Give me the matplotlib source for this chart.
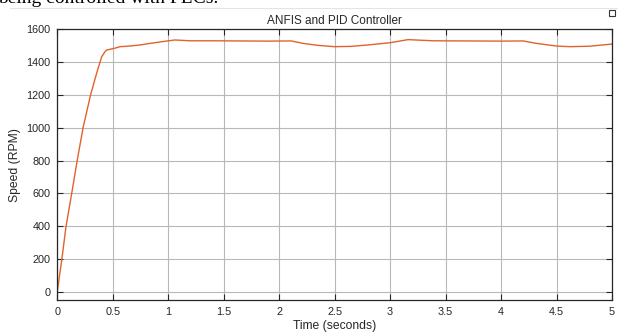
import matplotlib
matplotlib.use("Agg")
import matplotlib.pyplot as plt
from matplotlib.patches import Rectangle
from matplotlib.lines import Line2D

time_s = [0, 0.02, 0.04, 0.078, 0.13, 0.18, 0.234, 0.30, 0.355, 0.40, 0.43, 0.445,
          0.475, 0.52, 0.565, 0.655, 0.75, 0.835, 0.95, 1.06, 1.195, 1.4, 1.646,
          1.9, 2.11, 2.216, 2.35, 2.50, 2.65, 2.79, 3.0, 3.16, 3.39, 3.7, 4.0,
          4.2, 4.32, 4.5, 4.62, 4.8, 5.0]
speed_rpm = [0, 100, 193, 396, 600, 803, 1006, 1200, 1333, 1433, 1463, 1474,
             1478, 1485, 1494, 1498, 1505, 1514, 1525, 1535, 1530, 1530, 1529,
             1528, 1529, 1514, 1502, 1494, 1496, 1504, 1518, 1537, 1530, 1529, 1528,
             1529, 1514, 1498, 1494, 1497, 1510]

xticks = [0, 0.5, 1, 1.5, 2, 2.5, 3, 3.5, 4, 4.5, 5]
xtick_labels = ["0", "0.5", "1", "1.5", "2", "2.5", "3", "3.5", "4", "4.5", "5"]
yticks = [0, 200, 400, 600, 800, 1000, 1200, 1400, 1600]

plt.rcParams['font.family'] = ['Liberation Sans', 'DejaVu Sans']

W, H = 618, 334
fig = plt.figure(figsize=(W / 100, H / 100), dpi=100)
fig.patch.set_facecolor('white')

# clipped document text at the top (cut off in the reference as well)
fig.text(-2 / W, 1 - 3 / H, "being controlled with FLCs.", fontsize=14,
         family=['Liberation Serif', 'DejaVu Serif'], ha='left', va='baseline',
         color='black')
fig.add_artist(Line2D([10 / W, 1], [1 - 7.5 / H, 1 - 7.5 / H],
                      transform=fig.transFigure, color='#e4e4e4', lw=0.8))
# small icon at top right
fig.add_artist(Rectangle((609 / W, 1 - 16 / H), 6 / W, 6 / H,
                         transform=fig.transFigure, facecolor='white',
                         edgecolor='#333333', lw=0.8))

left, right = 57.3 / W, 612 / W
bottom, top = (H - 300) / H, (H - 29.3) / H
ax = fig.add_axes([left, bottom, right - left, top - bottom])

ax.plot(time_s, speed_rpm, color='#e2622a', lw=1.0)

ax.set_xlim(0, 5)
ax.set_ylim(-50, 1600)
ax.set_xticks(xticks)
ax.set_xticklabels(xtick_labels)
ax.set_yticks(yticks)

ax.grid(True, color='#b8b8b8', lw=0.8)
ax.set_axisbelow(True)
ax.tick_params(direction='in', length=4, width=0.8, colors='#262626',
               labelsize=7.8, top=True, right=True, pad=5)
for lab in ax.get_xticklabels() + ax.get_yticklabels():
    lab.set_color('#262626')
for sp in ax.spines.values():
    sp.set_color('#262626')
    sp.set_linewidth(0.9)

ax.set_title("ANFIS and PID Controller", fontsize=8.5, color='#262626', pad=4)
ax.set_xlabel("Time (seconds)", fontsize=8.7, color='#262626', labelpad=2)
ax.set_ylabel("Speed (RPM)", fontsize=8.7, color='#262626', labelpad=4)

fig.savefig("out.png", dpi=100, facecolor='white')
